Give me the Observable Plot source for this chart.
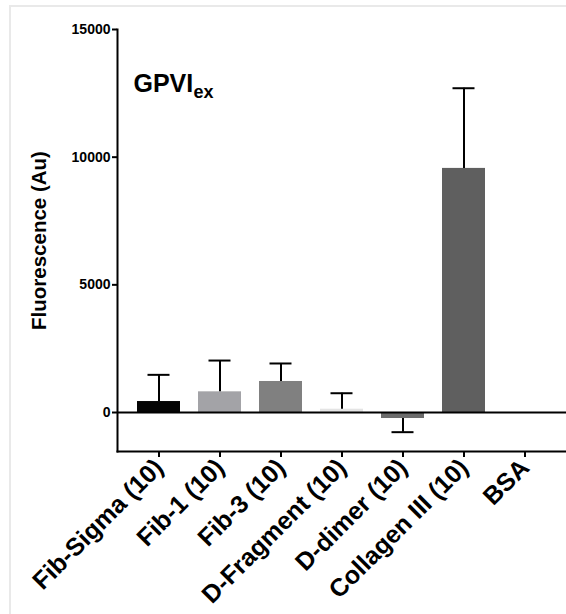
<!DOCTYPE html>
<html>
<head>
<meta charset="utf-8">
<script src="https://cdn.jsdelivr.net/npm/d3@7"></script>
<script src="https://cdn.jsdelivr.net/npm/@observablehq/plot@0.6"></script>
<style>
  html, body { margin: 0; padding: 0; background: #fff; }
  #wrap { position: relative; width: 566px; height: 614px; overflow: hidden; }
  #border { position: absolute; left: 9px; top: 5px; width: 600px; height: 700px;
            border-top: 2px solid #e9e9e9; border-left: 2px solid #e9e9e9; pointer-events: none; }
  svg { font-family: "Liberation Sans", Arial, Helvetica, sans-serif; }
</style>
</head>
<body>
<div id="wrap"><div id="border"></div></div>
<script>
const categories = ["Fib-Sigma (10)", "Fib-1 (10)", "Fib-3 (10)", "D-Fragment (10)", "D-dimer (10)", "Collagen III (10)", "BSA"];
const means = [430, 810, 1215, 130, -235, 9560, 0];
const errors = [1045, 1225, 705, 625, 535, 3140, 0];
const colors = ["#050505", "#a3a3a7", "#808080", "#e4e4e4", "#6b6b6b", "#5f5f5f", "#ffffff"];
const yTicks = [0, 5000, 10000, 15000];
const titleMain = "GPVI";
const titleSub = "ex";
const yLabel = "Fluorescence (Au)";

const data = categories.map((c, i) => ({
  cat: c, mean: means[i], err: errors[i], color: colors[i],
  end: means[i] >= 0 ? means[i] + errors[i] : means[i] - errors[i]
}));
const withErr = data.filter(d => d.err > 0);

const chart = Plot.plot({
  width: 566,
  height: 614,
  marginLeft: 117,
  marginRight: 0,
  marginTop: 29,
  marginBottom: 163,
  style: { fontFamily: "'Liberation Sans', Arial, sans-serif", color: "#000", background: "transparent" },
  x: { domain: categories, padding: 0.3, label: null },
  y: { domain: [-1527, 15000], label: null },
  marks: [
    Plot.barY(data, { x: "cat", y: "mean", fill: "color" }),
    Plot.ruleX(withErr, { x: "cat", y1: "mean", y2: "end", stroke: "#000", strokeWidth: 2 }),
    Plot.tickY(withErr, { x: "cat", y: "end", stroke: "#000", strokeWidth: 2, insetLeft: 10.5, insetRight: 10.5 }),
    Plot.ruleY([0], { stroke: "#000", strokeWidth: 2 }),
    Plot.frame({ anchor: "left", stroke: "#000", strokeWidth: 2 }),
    Plot.frame({ anchor: "bottom", stroke: "#000", strokeWidth: 2 }),
    Plot.axisY({ ticks: yTicks, tickSize: 5, tickPadding: 2, fontSize: 14, fontWeight: "bold", label: null, strokeWidth: 2, tickFormat: d => String(d) }),
    Plot.axisX({ tickSize: 6, tickPadding: 6, tickRotate: -45, fontSize: 25, fontWeight: "bold", label: null, strokeWidth: 2 }),
    Plot.text([yLabel], { frameAnchor: "left", textAnchor: "middle", rotate: -90, dx: -78, fontSize: 20.5, fontWeight: "bold", fill: "#000" }),
    Plot.text([titleMain], { frameAnchor: "top-left", textAnchor: "start", dx: 16, dy: 44.5, fontSize: 25, fontWeight: "bold", fill: "#000" }),
    Plot.text([titleSub], { frameAnchor: "top-left", textAnchor: "start", dx: 76, dy: 56, fontSize: 18, fontWeight: "bold", fill: "#000" })
  ]
});
document.getElementById("wrap").appendChild(chart);
chart.style.position = "absolute";
chart.style.left = "0";
chart.style.top = "0";
</script>
</body>
</html>
